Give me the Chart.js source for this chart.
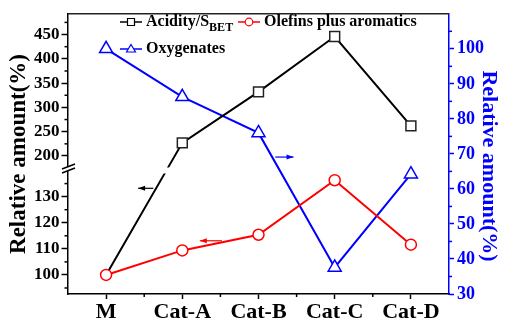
<!DOCTYPE html>
<html>
<head>
<meta charset="utf-8">
<script src="https://cdn.jsdelivr.net/npm/chart.js@4.4.0/dist/chart.umd.min.js"></script>
<style>
  html, body { margin: 0; padding: 0; background: #fff; }
</style>
</head>
<body>
<canvas id="chart" width="505" height="322"></canvas>
<script>
const categories = ['M', 'Cat-A', 'Cat-B', 'Cat-C', 'Cat-D'];
const acidity = [100, 227, 332, 446, 262];
const olefins = [100, 109.4, 115.4, 136.3, 111.6];
const oxygenates = [100, 86.3, 76.0, 37.6, 64.2];

const left_ticks = [100, 110, 120, 130, 200, 250, 300, 350, 400, 450];
const left_minor = [95, 105, 115, 125, 135, 225, 275, 325, 375, 425, 475];
const right_minor = [35, 45, 55, 65, 75, 85, 95, 105];
const x_minor = [0.5, 1.5, 2.5, 3.5];

// left axis is broken in two parts
const low_range = [92.7, 140.8];
const high_range = [174.3, 492.7];
const low_share = 0.448;

const serif = "'Liberation Serif', 'Times New Roman', serif";
const blue = '#0000ff';
const red = '#ff0000';

class BrokenScale extends Chart.LinearScale {
  static id = 'broken';
  buildTicks() {
    this.min = low_range[0];
    this.max = high_range[1];
    return left_ticks.map(v => ({ value: v }));
  }
  getPixelForValue(v) {
    if (v === null || v === undefined || isNaN(v)) return NaN;
    let d;
    if (v <= low_range[1]) d = (v - low_range[0]) / (low_range[1] - low_range[0]) * low_share;
    else if (v >= high_range[0]) d = low_share + (v - high_range[0]) / (high_range[1] - high_range[0]) * (1 - low_share);
    else d = low_share;
    return this.getPixelForDecimal(d);
  }
  getValueForPixel(p) {
    const d = this.getDecimalForPixel(p);
    if (d <= low_share) return low_range[0] + d / low_share * (low_range[1] - low_range[0]);
    return high_range[0] + (d - low_share) / (1 - low_share) * (high_range[1] - high_range[0]);
  }
}
Chart.register(BrokenScale);

function line(ctx, x1, y1, x2, y2) {
  ctx.beginPath(); ctx.moveTo(x1, y1); ctx.lineTo(x2, y2); ctx.stroke();
}

function arrow(ctx, x1, x2, y, color) {
  ctx.strokeStyle = color; ctx.fillStyle = color; ctx.lineWidth = 1.2;
  line(ctx, x1, y, x2, y);
  const dir = Math.sign(x2 - x1);
  ctx.beginPath();
  ctx.moveTo(x2, y);
  ctx.lineTo(x2 - dir * 7, y - 2.5);
  ctx.lineTo(x2 - dir * 7, y + 2.5);
  ctx.closePath(); ctx.fill();
}

function marker(ctx, style, x, y, color) {
  ctx.strokeStyle = color; ctx.fillStyle = '#fff'; ctx.lineWidth = 1.2;
  ctx.beginPath();
  if (style === 'rect') ctx.rect(x - 3.5, y - 3.5, 7, 7);
  else if (style === 'circle') ctx.arc(x, y, 3.8, 0, Math.PI * 2);
  else { ctx.moveTo(x, y - 4.5); ctx.lineTo(x + 4.5, y + 3); ctx.lineTo(x - 4.5, y + 3); ctx.closePath(); }
  ctx.fill(); ctx.stroke();
}

function legend_item(ctx, x, y, color, style, label, sub) {
  ctx.strokeStyle = color; ctx.lineWidth = 1.5;
  line(ctx, x, y, x + 22, y);
  marker(ctx, style, x + 11, y, color);
  ctx.fillStyle = '#000';
  ctx.font = 'bold 16px ' + serif;
  ctx.textAlign = 'left'; ctx.textBaseline = 'middle';
  ctx.fillText(label, x + 26, y);
  if (sub) {
    const w = ctx.measureText(label).width;
    ctx.font = 'bold 12px ' + serif;
    ctx.fillText(sub, x + 26 + w, y + 6);
  }
}

const decorations = {
  id: 'decorations',
  afterDraw(chart) {
    const ctx = chart.ctx;
    const xs = chart.scales.x, yl = chart.scales.yl, yr = chart.scales.yr;
    const area = chart.chartArea;
    ctx.save();

    // top frame
    ctx.strokeStyle = '#222'; ctx.lineWidth = 1.5;
    line(ctx, area.left, area.top, area.right, area.top);

    // minor ticks
    ctx.strokeStyle = '#000'; ctx.lineWidth = 1.5;
    left_minor.forEach(v => { const y = yl.getPixelForValue(v); line(ctx, area.left - 3.5, y, area.left, y); });
    x_minor.forEach(v => { const x = xs.getPixelForValue(v); line(ctx, x, area.bottom, x, area.bottom + 3); });
    ctx.strokeStyle = blue;
    right_minor.forEach(v => { const y = yr.getPixelForValue(v); line(ctx, area.right, y, area.right + 3, y); });

    // break mark on the left axis and gap in the acidity line
    const yb = area.bottom - low_share * (area.bottom - area.top);
    const x0 = area.left;
    ctx.fillStyle = '#fff';
    ctx.beginPath();
    ctx.moveTo(x0 - 6, yb + 0.5); ctx.lineTo(x0 + 7, yb - 4.5);
    ctx.lineTo(x0 + 7, yb - 0.5); ctx.lineTo(x0 - 6, yb + 4.5);
    ctx.closePath(); ctx.fill();
    ctx.strokeStyle = '#000'; ctx.lineWidth = 1.5;
    line(ctx, x0 - 6, yb + 0.5, x0 + 7, yb - 4.5);
    line(ctx, x0 - 6, yb + 4.5, x0 + 7, yb - 0.5);

    const pts = chart.getDatasetMeta(0).data;
    for (let i = 0; i < pts.length - 1; i++) {
      const a = pts[i], b = pts[i + 1];
      if ((a.y - yb) * (b.y - yb) < 0) {
        const x = a.x + (b.x - a.x) * (yb - a.y) / (b.y - a.y);
        ctx.fillRect(x - 5, yb - 1, 10, 6);
      }
    }

    // arrows pointing to the axes
    arrow(ctx, xs.getPixelForValue(0.62), xs.getPixelForValue(0.42), yl.getPixelForValue(133.2), '#000');
    arrow(ctx, xs.getPixelForValue(1.52), xs.getPixelForValue(1.23), yl.getPixelForValue(113.1), red);
    arrow(ctx, xs.getPixelForValue(2.22), xs.getPixelForValue(2.46), yr.getPixelForValue(69.1), blue);

    // legend
    legend_item(ctx, 120, 22, '#000', 'rect', 'Acidity/S', 'BET');
    legend_item(ctx, 238, 22, red, 'circle', 'Olefins plus aromatics');
    legend_item(ctx, 120, 49, blue, 'triangle', 'Oxygenates');

    // axis titles
    ctx.font = 'bold 23px ' + serif;
    ctx.textAlign = 'center'; ctx.textBaseline = 'middle';
    ctx.fillStyle = '#000';
    ctx.save(); ctx.translate(19, 154); ctx.rotate(-Math.PI / 2);
    ctx.fillText('Relative amount(%)', 0, 0); ctx.restore();
    ctx.font = 'bold 22px ' + serif;
    ctx.fillStyle = blue;
    ctx.save(); ctx.translate(489, 166); ctx.rotate(Math.PI / 2);
    ctx.fillText('Relative amount(%)', 0, 0); ctx.restore();

    ctx.restore();
  }
};

new Chart(document.getElementById('chart').getContext('2d'), {
  type: 'line',
  data: {
    labels: categories,
    datasets: [{
      label: 'Acidity/SBET',
      data: acidity,
      yAxisID: 'yl',
      borderColor: '#000',
      borderWidth: 2,
      pointStyle: 'rect',
      pointRadius: ctx => ctx.dataIndex === 0 ? 0 : 7,
      pointBorderWidth: 1.5,
      pointBackgroundColor: '#fff',
      pointBorderColor: '#222',
      order: 1
    }, {
      label: 'Olefins plus aromatics',
      data: olefins,
      yAxisID: 'yl',
      borderColor: red,
      borderWidth: 2,
      pointStyle: 'circle',
      pointRadius: 5.5,
      pointBorderWidth: 1.5,
      pointBackgroundColor: '#fff',
      pointBorderColor: red,
      order: 0
    }, {
      label: 'Oxygenates',
      data: oxygenates,
      yAxisID: 'yr',
      borderColor: blue,
      borderWidth: 2,
      pointStyle: 'triangle',
      pointRadius: 7.5,
      pointBorderWidth: 1.5,
      pointBackgroundColor: '#fff',
      pointBorderColor: blue,
      order: 2
    }]
  },
  options: {
    responsive: false,
    animation: false,
    devicePixelRatio: 1,
    layout: { padding: { top: 12, left: 0, right: 0, bottom: 0 } },
    plugins: { legend: { display: false }, tooltip: { enabled: false } },
    scales: {
      x: {
        type: 'category',
        offset: true,
        grid: { offset: false, drawOnChartArea: false, tickLength: 5, tickWidth: 1.5, tickColor: '#000' },
        border: { color: '#000', width: 1.5 },
        ticks: { color: '#000', font: { family: serif, size: 22, weight: 'bold' }, padding: 0, maxRotation: 0, autoSkip: false },
        afterFit: s => { s.height = 28; }
      },
      yl: {
        type: 'broken',
        position: 'left',
        grid: { drawOnChartArea: false, tickLength: 6.5, tickWidth: 1.5, tickColor: '#000' },
        border: { color: '#000', width: 1.5 },
        ticks: { color: '#000', font: { family: serif, size: 17, weight: 'bold' }, padding: 2, callback: v => String(v) },
        afterFit: s => { s.width = 68; }
      },
      yr: {
        type: 'linear',
        position: 'right',
        min: 30,
        max: 110,
        grid: { drawOnChartArea: false, tickLength: 5, tickWidth: 1.5, tickColor: blue },
        border: { color: blue, width: 1.5 },
        ticks: { color: blue, stepSize: 10, font: { family: serif, size: 18, weight: 'bold' }, padding: 3 },
        afterBuildTicks: s => { s.ticks = s.ticks.filter(t => t.value <= 100); },
        afterFit: s => { s.width = 56; }
      }
    }
  },
  plugins: [decorations]
});
</script>
</body>
</html>
